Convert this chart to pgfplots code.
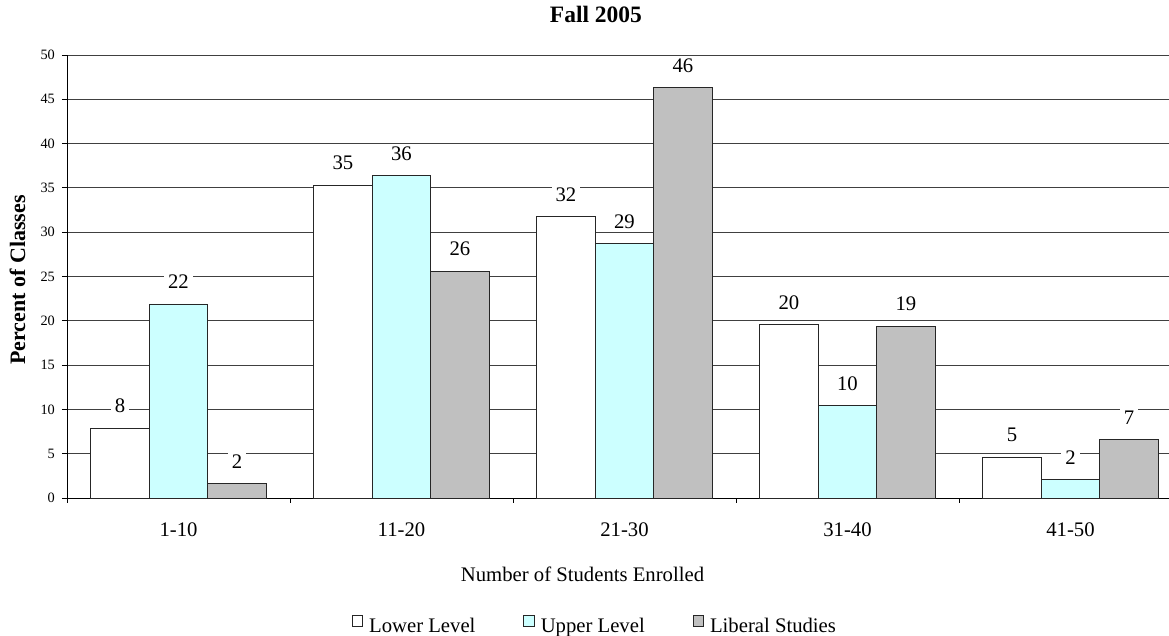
\documentclass[border=0pt]{standalone}
\usepackage{fontspec}
\setmainfont{Liberation Serif}
\usepackage{pgfplots}
\pgfplotsset{compat=1.18}
\definecolor{upperc}{HTML}{CCFFFF}
\definecolor{liberalc}{HTML}{C0C0C0}
\newcommand{\lfont}{\fontsize{20.7bp}{24bp}\selectfont}
\begin{document}
\begin{tikzpicture}
\useasboundingbox (0,0) rectangle (1169bp,636bp);
\begin{axis}[
  at={(67bp,138bp)}, anchor=south west,
  width=1102bp, height=443bp, scale only axis,
  xmin=-0.5, xmax=4.4417, ymin=0, ymax=50,
  clip=false,
  ytick={0,5,...,50},
  xtick={0,1,2,3,4},
  xticklabels={1-10,11-20,21-30,31-40,41-50},
  minor xtick={-0.5,0.5,1.5,2.5,3.5},
  axis x line*=bottom, axis y line*=left,
  axis line style={black, line width=0.9bp, -},
  tick align=outside,
  major tick length=5bp, minor tick length=5bp,
  every tick/.style={black, line width=0.8bp},
  major x tick style={draw=none},
  ymajorgrids, grid style={black!75, line width=0.8bp},
  /pgf/number format/assume math mode=true,
  yticklabel style={font=\fontsize{14.3bp}{16bp}\selectfont, inner sep=0pt, xshift=-7bp},
  xticklabel style={font=\lfont, anchor=base, yshift=-33bp},
  ybar=0pt, bar width=58.5bp,
  nodes near coords={\pgfmathprintnumber[fixed,precision=0]{\pgfplotspointmeta}},
  every node near coord/.append style={font=\lfont, fill=white, inner xsep=4bp, inner ysep=1.5bp, anchor=center, yshift=22bp},
  title={Fall 2005},
  title style={font=\bfseries\fontsize{23.5bp}{26bp}\selectfont, at={(rel axis cs:0.480,1.0609)}, anchor=base},
  xlabel={Number of Students Enrolled},
  xlabel style={font=\lfont, at={(rel axis cs:0.4678,-0.18736)}, anchor=base},
  ylabel={Percent of Classes},
  ylabel style={font=\bfseries\fontsize{22bp}{25bp}\selectfont, at={(rel axis cs:-0.0381,0.492)}, anchor=base},
  legend columns=3,
  legend image code/.code={\draw[#1, line width=0.8bp] (0bp,-0.5bp) rectangle (10.5bp,10bp);},
  legend style={at={(rel axis cs:0.2583,-0.3070)}, anchor=south west, draw=none, fill=none, font=\lfont, inner sep=0pt,
    nodes={inner sep=0pt},
    /tikz/every odd column/.append style={column sep=6bp},
    /tikz/every even column/.append style={column sep=48bp}},
]
\addplot[fill=white, draw=black!85, line width=0.9bp] coordinates {(0,7.9) (1,35.3) (2,31.8) (3,19.6) (4,4.6)};
\addplot[fill=upperc, draw=black!85, line width=0.9bp] coordinates {(0,21.9) (1,36.4) (2,28.7) (3,10.4) (4,2.1)};
\addplot[fill=liberalc, draw=black!85, line width=0.9bp] coordinates {(0,1.6) (1,25.6) (2,46.3) (3,19.4) (4,6.6)};
\legend{Lower Level, Upper Level, Liberal Studies}
\end{axis}
\end{tikzpicture}
\end{document}
